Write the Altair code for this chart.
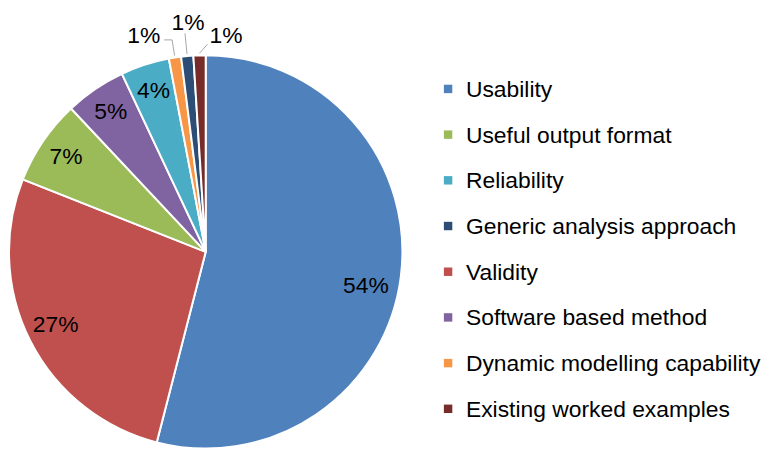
import math
import altair as alt
import pandas as pd

# ---- data ----
categories = [
    "Usability",
    "Validity",
    "Useful output format",
    "Software based method",
    "Reliability",
    "Dynamic modelling capability",
    "Generic analysis approach",
    "Existing worked examples",
]
shares = [54, 27, 7, 5, 4, 1, 1, 1]

legend_order = [
    "Usability",
    "Useful output format",
    "Reliability",
    "Generic analysis approach",
    "Validity",
    "Software based method",
    "Dynamic modelling capability",
    "Existing worked examples",
]
legend_colors = [
    "#4F81BD",
    "#9BBB59",
    "#4BACC6",
    "#2C4D75",
    "#C0504D",
    "#8064A2",
    "#F79646",
    "#772C2A",
]

df = pd.DataFrame({
    "cat": categories,
    "value": shares,
    "order": list(range(len(categories))),
    "label": [f"{v}%" for v in shares],
})
legend_df = pd.DataFrame({"cat": legend_order})

# ---- layout / style ----
W, H = 760, 442
CX, CY, R = 199, 244, 198
FONT = "Liberation Sans"
FS = 23

# label placement: (angle nudge in degrees, radius)
LABEL_DEFAULT = (0, 170)
LABEL_NUDGE = {
    "Usability": (5, 165),
    "Validity": (1, 168),
    "Dynamic modelling capability": (-7, 226),
    "Generic analysis approach": (1, 231),
    "Existing worked examples": (7.2, 218),
}
# leader lines: (end angle nudge deg, end radius, horizontal hook)
LEADERS = {
    "Dynamic modelling capability": (0, 216, -8),
    "Generic analysis approach": (0, 221, 0),
    "Existing worked examples": (2.3, 209, 0),
}


def per_cat(d, idx, default):
    expr = str(default)
    for k, v in d.items():
        expr = f"(datum.cat === '{k}' ? {v[idx]} : {expr})"
    return expr


color = alt.Color(
    "cat:N",
    scale=alt.Scale(domain=legend_order, range=legend_colors),
    legend=None,
)

base = (
    alt.Chart(df)
    .transform_window(cum="sum(value)", sort=[alt.SortField("order")])
    .transform_joinaggregate(total="sum(value)")
    .transform_calculate(mid="2*PI*(datum.cum - datum.value/2)/datum.total")
)

arcs = alt.Chart(df).mark_arc(outerRadius=R, stroke="white", strokeWidth=2).encode(
    theta=alt.Theta("value:Q", stack=True),
    order=alt.Order("order:Q"),
    color=color,
    x=alt.value(CX),
    y=alt.value(CY),
)

labels = (
    base.transform_calculate(
        lt=f"datum.mid + ({per_cat(LABEL_NUDGE, 0, LABEL_DEFAULT[0])})*PI/180",
        lr=per_cat(LABEL_NUDGE, 1, LABEL_DEFAULT[1]),
    )
    .transform_calculate(
        lx=f"{CX} + datum.lr*sin(datum.lt)",
        ly=f"{CY} - datum.lr*cos(datum.lt)",
    )
    .mark_text(font=FONT, fontSize=FS, color="#000000", align="center", baseline="middle")
    .encode(
        x=alt.X("lx:Q", scale=None),
        y=alt.Y("ly:Q", scale=None),
        text="label:N",
    )
)

small = list(LEADERS.keys())
lead_base = (
    base.transform_filter(alt.FieldOneOfPredicate(field="cat", oneOf=small))
    .transform_calculate(
        et=f"datum.mid + ({per_cat(LEADERS, 0, 0)})*PI/180",
        er=per_cat(LEADERS, 1, 0),
        hook=per_cat(LEADERS, 2, 0),
    )
    .transform_calculate(
        sx=f"{CX} + {R + 2}*sin(datum.mid)",
        sy=f"{CY} - {R + 2}*cos(datum.mid)",
        ex=f"{CX} + datum.er*sin(datum.et)",
        ey=f"{CY} - datum.er*cos(datum.et)",
    )
    .transform_calculate(hx="datum.ex + datum.hook")
)

leaders = lead_base.mark_rule(color="#A6A6A6", strokeWidth=1).encode(
    x=alt.X("sx:Q", scale=None),
    y=alt.Y("sy:Q", scale=None),
    x2="ex:Q",
    y2="ey:Q",
)
hooks = (
    lead_base.transform_filter("datum.hook != 0")
    .mark_rule(color="#A6A6A6", strokeWidth=1)
    .encode(
        x=alt.X("ex:Q", scale=None),
        y=alt.Y("ey:Q", scale=None),
        x2="hx:Q",
        y2="ey:Q",
    )
)

leg_y = alt.Y(
    "cat:N",
    scale=alt.Scale(domain=legend_order, range=[80, 402], padding=0),
    axis=None,
)
leg_sq = alt.Chart(legend_df).mark_square(size=72, opacity=1).encode(
    x=alt.value(443),
    y=leg_y,
    color=color,
)
leg_txt = alt.Chart(legend_df).mark_text(
    font=FONT, fontSize=FS, color="#000000", align="left", baseline="alphabetic", dy=8
).encode(
    x=alt.value(461),
    y=leg_y,
    text="cat:N",
)

chart = (
    alt.layer(arcs, labels, leaders, hooks, leg_sq, leg_txt)
    .properties(width=W, height=H, padding=0, autosize=alt.AutoSizeParams(type="none"))
    .configure_view(stroke=None)
)

chart.save("out.html", embed_options={"renderer": "svg", "actions": False})
